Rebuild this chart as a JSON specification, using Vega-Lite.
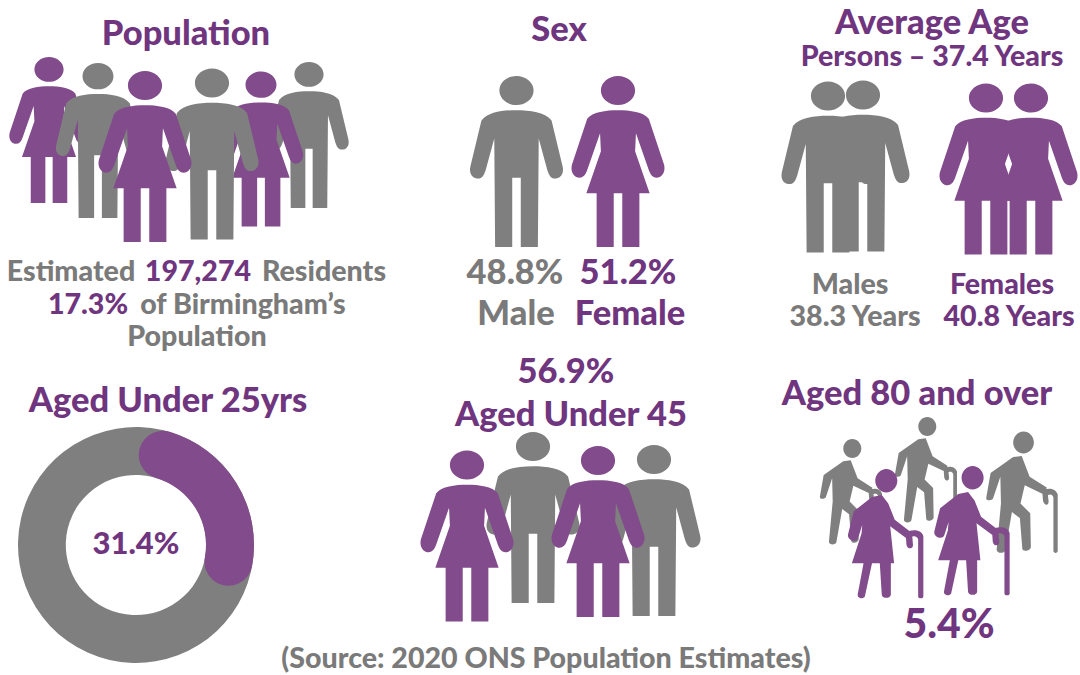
{
"$schema":"https://vega.github.io/schema/vega-lite/v6.json",
"width":1080,"height":675,"padding":0,
"autosize":{"type":"fit","contains":"padding"},
"background":"white",
"view":{"stroke":null},
"datasets":{
"ring":[{"segment":"All residents","x":136,"y":545,"from":0,"to":100},{"segment":"Aged under 25","x":136,"y":545,"from":0,"to":31.4}],
"figures":[
{"panel":"Population","figure":"woman","depth":"d146","x":49,"y":130,"tone":"Female"},
{"panel":"Population","figure":"man","depth":"d155","x":98,"y":140.5,"tone":"Male"},
{"panel":"Population","figure":"man","depth":"d146","x":309,"y":135,"tone":"Male"},
{"panel":"Population","figure":"woman","depth":"d155","x":261,"y":149,"tone":"Female"},
{"panel":"Population","figure":"man","depth":"d171","x":212,"y":154,"tone":"Male"},
{"panel":"Population","figure":"woman","depth":"d171","x":145,"y":156.5,"tone":"Female"},
{"panel":"Sex","figure":"man","depth":"d171","x":516.5,"y":161.5,"tone":"Male"},
{"panel":"Sex","figure":"woman","depth":"d171","x":618,"y":161.5,"tone":"Female"},
{"panel":"Average Age","figure":"man","depth":"d171","x":828,"y":167,"tone":"Male"},
{"panel":"Average Age","figure":"man","depth":"d171","x":863,"y":166,"tone":"Male"},
{"panel":"Average Age","figure":"woman","depth":"d171","x":986,"y":169,"tone":"Female"},
{"panel":"Average Age","figure":"woman","depth":"d171","x":1031,"y":169,"tone":"Female"},
{"panel":"Aged Under 45","figure":"man","depth":"d171","x":654,"y":530.5,"tone":"Male"},
{"panel":"Aged Under 45","figure":"man","depth":"d171","x":533,"y":517.5,"tone":"Male"},
{"panel":"Aged Under 45","figure":"woman","depth":"d171","x":467,"y":536,"tone":"Female"},
{"panel":"Aged Under 45","figure":"woman","depth":"d171","x":598,"y":531.5,"tone":"Female"},
{"panel":"Aged 80 and over","figure":"elderMan","depth":"d106","x":850.7,"y":492,"tone":"Male"},
{"panel":"Aged 80 and over","figure":"elderMan","depth":"d106","x":925.7,"y":470,"tone":"Male"},
{"panel":"Aged 80 and over","figure":"elderMan","depth":"d122","x":1021.7,"y":492.5,"tone":"Male"},
{"panel":"Aged 80 and over","figure":"elderWoman","depth":"d130","x":885,"y":534,"tone":"Female"},
{"panel":"Aged 80 and over","figure":"elderWoman","depth":"d130","x":971.3,"y":531,"tone":"Female"}
],
"labels":[
{"label":"Population","x":186,"y":35,"tone":"purple","level":"title"},
{"label":"Sex","x":559,"y":31,"tone":"purple","level":"title"},
{"label":"Average Age","x":932,"y":24,"tone":"purple","level":"title"},
{"label":"Persons – 37.4 Years","x":932,"y":57,"tone":"purple","level":"body"},
{"label":"Estimated","x":71,"y":272,"tone":"gray","level":"body"},
{"label":"197,274","x":198,"y":272,"tone":"purple","level":"body"},
{"label":"Residents","x":324,"y":272,"tone":"gray","level":"body"},
{"label":"17.3%","x":88,"y":305,"tone":"purple","level":"body"},
{"label":"of Birmingham’s","x":243,"y":305,"tone":"gray","level":"body"},
{"label":"Population","x":197,"y":337,"tone":"gray","level":"body"},
{"label":"48.8%","x":515,"y":274,"tone":"gray","level":"title"},
{"label":"51.2%","x":628,"y":274,"tone":"purple","level":"title"},
{"label":"Male","x":516,"y":315,"tone":"gray","level":"title"},
{"label":"Female","x":630,"y":315,"tone":"purple","level":"title"},
{"label":"Males","x":850,"y":285,"tone":"gray","level":"body"},
{"label":"Females","x":1002,"y":285,"tone":"purple","level":"body"},
{"label":"38.3 Years","x":855,"y":317,"tone":"gray","level":"body"},
{"label":"40.8 Years","x":1009,"y":317,"tone":"purple","level":"body"},
{"label":"Aged Under 25yrs","x":168,"y":402,"tone":"purple","level":"title"},
{"label":"31.4%","x":136,"y":545,"tone":"purple","level":"centre"},
{"label":"56.9%","x":566,"y":373,"tone":"purple","level":"title"},
{"label":"Aged Under 45","x":571,"y":416,"tone":"purple","level":"title"},
{"label":"Aged 80 and over","x":917,"y":395,"tone":"purple","level":"title"},
{"label":"5.4%","x":949,"y":626,"tone":"purple","level":"highlight"},
{"label":"(Source: 2020 ONS Population Estimates)","x":546,"y":659,"tone":"gray","level":"body"}
]
},
"encoding":{
"x":{"field":"x","type":"quantitative","axis":null,"scale":{"domain":[0,1080],"range":[0,1080],"nice":false,"zero":false}},
"y":{"field":"y","type":"quantitative","axis":null,"scale":{"domain":[0,675],"range":[0,675],"nice":false,"zero":false}}
},
"layer":[
{"data":{"name":"ring"},"transform":[{"filter":"datum.segment==='All residents'"}],
 "mark":{"type":"arc","innerRadius":70,"outerRadius":118,"color":"#7F7F7F"},
 "encoding":{"theta":{"field":"from","type":"quantitative","scale":{"domain":[0,100],"range":[0.03,6.33]},"stack":false},"theta2":{"field":"to"}}},
{"data":{"name":"ring"},"transform":[{"filter":"datum.segment==='Aged under 25'"}],
 "mark":{"type":"arc","innerRadius":70,"outerRadius":118,"cornerRadius":24,"color":"#824B8B"},
 "encoding":{"theta":{"field":"from","type":"quantitative","scale":{"domain":[0,100],"range":[0.03,6.33]},"stack":false},"theta2":{"field":"to"}}},
{"data":{"name":"figures"},
 "mark":{"type":"point","filled":true,"opacity":1,"strokeWidth":0},
 "encoding":{
  "shape":{"field":"figure","type":"nominal","legend":null,"scale":{"domain":["man","woman","elderMan","elderWoman"],"range":[
  "M-.2,-.83C-.2,-.924-.11,-1,0,-1C.11,-1,.2,-.924,.2,-.83C.2,-.736,.11,-.66,0,-.66C-.11,-.66-.2,-.736-.2,-.83ZM0,-.6C.16,-.6,.33,-.58,.41,-.48L.54,.06C.56,.16,.5,.2,.45,.2C.4,.2,.38,.16,.36,.1L.26,-.27L.25,1L.05,1L.05,.19L-.05,.19L-.05,1L-.25,1L-.26,-.27L-.36,.1C-.38,.16,-.4,.2,-.45,.2C-.5,.2,-.56,.16,-.54,.06L-.41,-.48C-.33,-.58,-.16,-.6,0,-.6Z",
  "M-.2,-.83C-.2,-.924-.11,-1,0,-1C.11,-1,.2,-.924,.2,-.83C.2,-.736,.11,-.66,0,-.66C-.11,-.66-.2,-.736-.2,-.83ZM0,-.6C.14,-.6,.3,-.58,.36,-.5L.54,.04C.56,.14,.5,.19,.45,.19C.41,.19,.38,.16,.36,.1L.21,-.33L.2,-.12L.37,.37L.25,.37L.25,1L.05,1L.05,.37L-.05,.37L-.05,1L-.25,1L-.25,.37L-.37,.37L-.2,-.12L-.21,-.33L-.36,.1C-.38,.16,-.41,.19,-.45,.19C-.5,.19,-.56,.14,-.54,.04L-.36,-.5C-.3,-.58,-.14,-.6,0,-.6Z",
  "M-.14,-.82C-.14,-.92-.06,-1,.03,-1C.12,-1,.2,-.92,.2,-.82C.2,-.72,.12,-.64,.03,-.64C-.06,-.64-.14,-.72-.14,-.82ZM-.14,-.58L0,-.6L.13,-.26L.41,-.08L.38,.04L.05,-.12L-.02,.18L.14,.34L.15,.89C.15,.96,.01,.98,.01,.92L-.03,.42L-.16,.32L-.27,.95C-.29,1.01,-.42,1,-.41,.93L-.34,.18L-.35,-.26L-.47,.1C-.49,.14,-.6,.14,-.58,.08L-.51,-.32ZM.38,-.05C.44,-.07,.55,-.08,.59,.03L.59,.96C.59,1,.52,1,.52,.96L.52,.08C.5,.02,.46,.03,.43,.04L.44,.14C.45,.22,.37,.22,.35,.14L.34,.02Z",
  "M-.15,-.82C-.15,-.92-.07,-1,.02,-1C.11,-1,.19,-.92,.19,-.82C.19,-.72,.11,-.64,.02,-.64C-.07,-.64-.15,-.72-.15,-.82ZM-.2,-.57L-.05,-.6L.05,-.47L.15,-.22L.41,-.02L.36,.09L.08,-.12L.14,.45L.09,.45L.09,.93C.09,1,-.05,1,-.05,.93L-.08,.45L-.2,.45L-.31,.96C-.33,1,-.43,1,-.42,.93L-.33,.45L-.51,.45L-.36,-.01L-.35,-.14L-.41,.05C-.43,.15,-.58,.1,-.57,.01L-.48,-.35ZM.38,-.05C.46,-.07,.56,-.06,.59,.03L.59,.96C.59,1,.51,1,.51,.96L.51,.08C.49,.03,.45,.03,.42,.04L.43,.16C.44,.24,.34,.24,.33,.16L.32,.02Z"
  ]}},
  "size":{"field":"depth","type":"nominal","legend":null,"scale":{"type":"ordinal","domain":["d106","d122","d130","d146","d155","d171"],"range":[11236,14884,16900,21316,24025,29241]}},
  "color":{"field":"tone","type":"nominal","legend":null,"scale":{"domain":["Male","Female"],"range":["#7F7F7F","#824B8B"]}}
 }},
{"data":{"name":"labels"},
 "mark":{"type":"text","font":"Lato","fontWeight":900,"align":"center","baseline":"middle"},
 "encoding":{
  "text":{"field":"label","type":"nominal"},
  "size":{"field":"level","type":"nominal","legend":null,"scale":{"type":"ordinal","domain":["body","centre","title","highlight"],"range":[28.6,31,34.5,41]}},
  "color":{"field":"tone","type":"nominal","legend":null,"scale":{"domain":["gray","purple"],"range":["#7A7A7A","#70357F"]}}
 }}
],
"resolve":{"scale":{"color":"independent","size":"independent"}},
"config":{"style":{"cell":{"stroke":null}}}
}
